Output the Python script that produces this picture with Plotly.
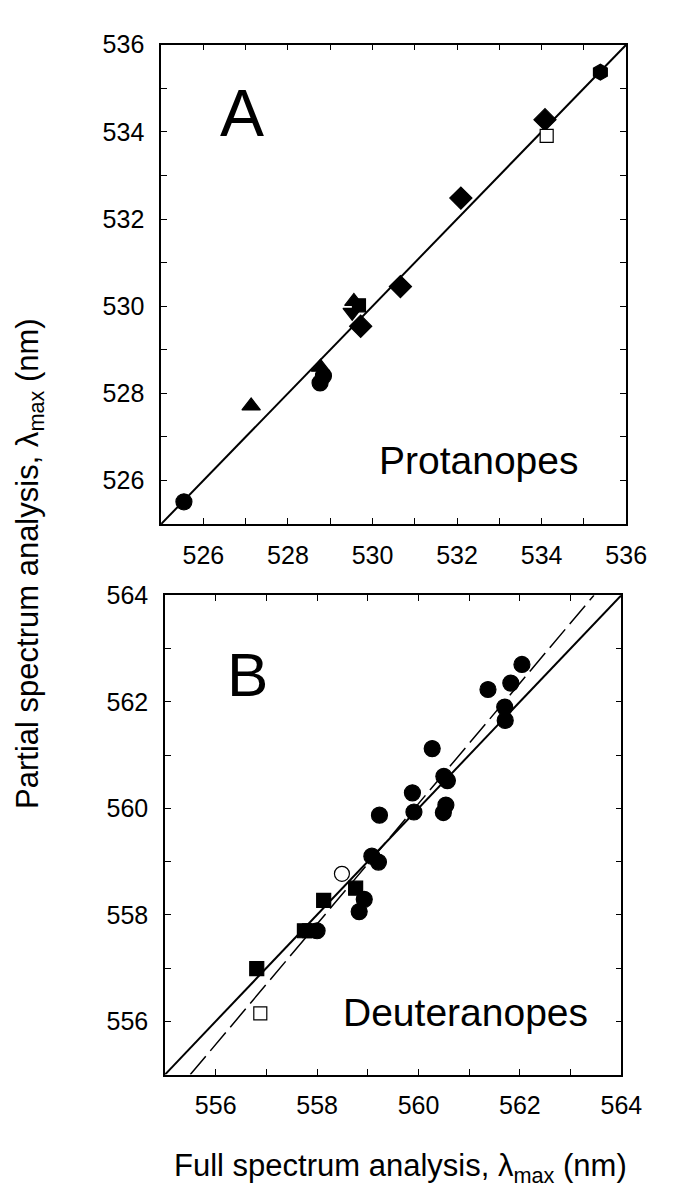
import plotly.graph_objects as go

# ---------------- data ----------------
# Panel A (Protanopes)
a_circle_x = [525.54, 528.76, 528.84]
a_circle_y = [525.51, 528.24, 528.40]
a_triup_x = [527.13, 528.77, 529.56]
a_triup_y = [527.71, 528.60, 530.11]
a_tridown_x = [529.52]
a_tridown_y = [529.86]
a_square_x = [529.68]
a_square_y = [530.02]
a_diamond_x = [529.72, 530.66, 532.09, 534.08]
a_diamond_y = [529.54, 530.45, 532.48, 534.28]
a_opensq_x = [534.12]
a_opensq_y = [533.91]
a_hex_x = [535.39]
a_hex_y = [535.37]
a_line_x = [525, 536]
a_line_y = [525, 536]

# Panel B (Deuteranopes)
b_circle_x = [558.00, 558.93, 558.83, 559.08, 559.21, 559.23, 559.91, 559.88, 560.27,
              560.50, 560.57, 560.54, 560.49, 561.37, 561.82, 562.04, 561.70, 561.71]
b_circle_y = [557.70, 558.29, 558.06, 559.10, 558.99, 559.87, 559.93, 560.29, 561.12,
              560.60, 560.52, 560.06, 559.92, 562.23, 562.35, 562.70, 561.90, 561.65]
b_square_x = [556.81, 557.75, 557.85, 558.13, 558.76]
b_square_y = [556.99, 557.70, 557.70, 558.27, 558.50]
b_opensq_x = [556.88]
b_opensq_y = [556.15]
b_opencirc_x = [558.49]
b_opencirc_y = [558.77]
b_line_x = [555, 564]
b_line_y = [555, 564]
b_dash_x = [555.5, 563.46]
b_dash_y = [555, 564]

# ticks
a_major = [526, 528, 530, 532, 534, 536]
a_minor = [525, 527, 529, 531, 533, 535]
b_major = [556, 558, 560, 562, 564]
b_minor = [555, 557, 559, 561, 563]

W, H = 676, 1200
FONT = "Liberation Sans, Arial, Helvetica, sans-serif"

fig = go.Figure()

def line(x, y, xa, ya, dash="solid", width=2):
    fig.add_trace(go.Scatter(x=x, y=y, mode="lines", xaxis=xa, yaxis=ya,
                             line=dict(color="black", width=width, dash=dash),
                             showlegend=False, hoverinfo="skip"))

def pts(x, y, xa, ya, symbol, size, fill="black"):
    fig.add_trace(go.Scatter(x=x, y=y, mode="markers", xaxis=xa, yaxis=ya,
                             marker=dict(symbol=symbol, size=size, color=fill,
                                         line=dict(color="black", width=1.2)),
                             showlegend=False, cliponaxis=False))

# Panel A
line(a_line_x, a_line_y, "x", "y")
pts(a_circle_x, a_circle_y, "x", "y", "circle", 16)
pts(a_triup_x, a_triup_y, "x", "y", "triangle-up", 16)
pts(a_tridown_x, a_tridown_y, "x", "y", "triangle-down", 16)
pts(a_square_x, a_square_y, "x", "y", "square", 13)
pts(a_diamond_x, a_diamond_y, "x", "y", "diamond", 17)
pts(a_opensq_x, a_opensq_y, "x", "y", "square", 13, fill="white")
pts(a_hex_x, a_hex_y, "x", "y", "hexagon", 16)

# Panel B
line(b_line_x, b_line_y, "x2", "y2")
line(b_dash_x, b_dash_y, "x2", "y2", dash="24px,7px", width=1.5)
pts(b_circle_x, b_circle_y, "x2", "y2", "circle", 16)
pts(b_square_x, b_square_y, "x2", "y2", "square", 14)
pts(b_opensq_x, b_opensq_y, "x2", "y2", "square", 13, fill="white")
pts(b_opencirc_x, b_opencirc_y, "x2", "y2", "circle", 15, fill="white")


def axis(domain, rng, anchor, major, minor, standoff):
    return dict(domain=domain, range=rng, anchor=anchor,
                tickmode="array", tickvals=major,
                showline=True, linecolor="black", linewidth=1.5, mirror="ticks",
                ticks="inside", ticklen=6, tickwidth=1.3, tickcolor="black",
                minor=dict(tickmode="array", tickvals=minor, ticks="inside",
                           ticklen=6, tickwidth=1.3, tickcolor="black", showgrid=False),
                showgrid=False, zeroline=False, ticklabelstandoff=standoff,
                tickfont=dict(family=FONT, size=25, color="black"))


fig.update_layout(
    width=W, height=H,
    margin=dict(l=0, r=0, t=0, b=0),
    paper_bgcolor="white", plot_bgcolor="white",
    xaxis=axis([158 / W, 638 / W], [525, 536], "y", a_major, a_minor, 8),
    yaxis=axis([1 - 508 / H, 1 - 23 / H], [525, 536], "x", a_major, a_minor, 10),
    xaxis2=axis([162 / W, 633 / W], [555, 564], "y2", b_major, b_minor, 8),
    yaxis2=axis([1 - 1065 / H, 1 - 580 / H], [555, 564], "x2", b_major, b_minor, 10),
)


def text(s, x, y, size, angle=0):
    fig.add_annotation(text=s, x=x / W, y=1 - y / H, xref="paper", yref="paper",
                       xanchor="center", yanchor="middle", showarrow=False,
                       textangle=angle, font=dict(family=FONT, size=size, color="black"))


text("A", 242, 92, 66)
text("B", 247, 660, 62)
text("Protanopes", 486, 444, 39)
text("Deuteranopes", 472, 1002, 39)
text("Partial spectrum analysis, λ<sub>max</sub> (nm)", 22, 548, 31, angle=-90)
text("Full spectrum analysis, λ<sub>max</sub> (nm)", 405, 1160, 31)

fig.write_html("out.html")
